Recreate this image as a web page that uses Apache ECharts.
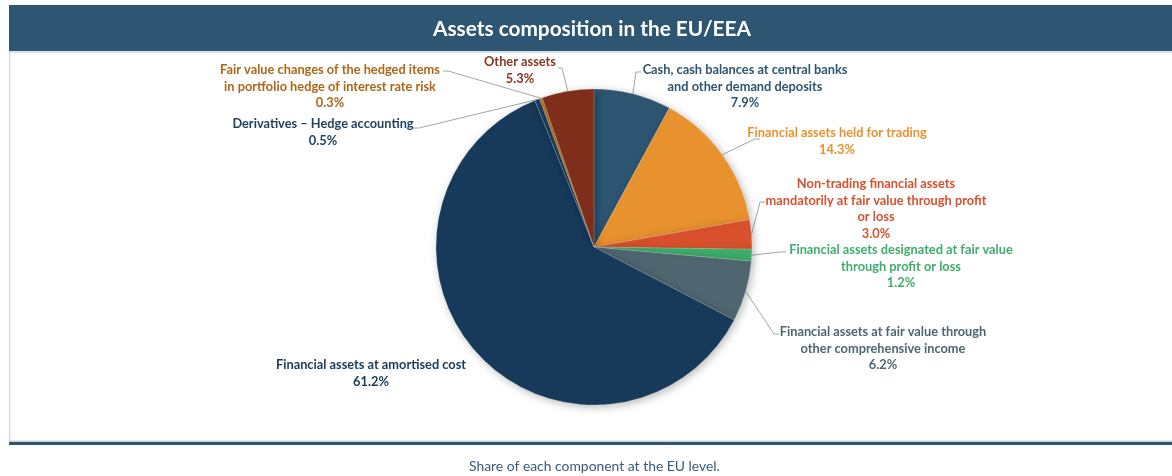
<!DOCTYPE html>
<html>
<head>
<meta charset="utf-8">
<title>Assets composition in the EU/EEA</title>
<script src="https://cdn.jsdelivr.net/npm/echarts@6/dist/echarts.min.js"></script>
<style>
  html, body { margin: 0; padding: 0; background: #ffffff; }
  #chart { width: 1172px; height: 476px; }
</style>
</head>
<body>
<div id="chart"></div>
<script>
// Asset components, in clockwise order starting at 12 o'clock
const categories = [
  'Cash, cash balances at central banks\nand other demand deposits',
  'Financial assets held for trading',
  'Non-trading financial assets\nmandatorily at fair value through profit\nor loss',
  'Financial assets designated at fair value\nthrough profit or loss',
  'Financial assets at fair value through\nother comprehensive income',
  'Financial assets at amortised cost',
  'Derivatives – Hedge accounting',
  'Fair value changes of the hedged items\nin portfolio hedge of interest rate risk',
  'Other assets'
];
// Share of total assets (%)
const shares = [7.9, 14.3, 3.0, 1.2, 6.2, 61.2, 0.5, 0.3, 5.3];

const sliceColors = ['#2E5572', '#E8912F', '#D9512C', '#3DAE6B', '#4F6670', '#173A5A', '#1E4060', '#B8721E', '#7E2E1A'];
const labelColors = ['#2E5572', '#E8912F', '#D9512C', '#3DAE6B', '#4F6670', '#173A5A', '#1E3F5E', '#B0661A', '#8B3520'];

// Label placement: centre x, top y of the text block, and the leader's bend/end points
const labelPlacement = [
  { x: 745, y: 62,  bend: [636, 72],  end: [641, 72] },
  { x: 837, y: 125, bend: [755, 139], end: [760, 139] },
  { x: 876, y: 176, bend: [760, 202], end: [765, 202] },
  { x: 901, y: 242, bend: [780, 252], end: [786, 252] },
  { x: 883, y: 324, bend: [774, 334], end: [779, 334] },
  { x: 371, y: 357, bend: null,       end: null },
  { x: 323, y: 116, bend: [419, 128], end: [413, 128] },
  { x: 330, y: 62,  bend: [448, 71],  end: [443, 71] },
  { x: 520, y: 54,  bend: [562, 68],  end: [558, 68] }
];

const chart = echarts.init(document.getElementById('chart'), null, { renderer: 'canvas' });

const fontFamily = 'Lato, "Open Sans", sans-serif';

const option = {
  animation: false,
  backgroundColor: '#ffffff',
  title: [
    {
      text: 'Assets composition in the EU/EEA',
      left: 428,
      top: 14,
      textStyle: { color: '#ffffff', fontSize: 20.8, fontWeight: 'bold', fontFamily: fontFamily }
    },
    {
      text: 'Share of each component at the EU level.',
      left: 464,
      top: 455,
      textStyle: { color: '#3A5A78', fontSize: 13.9, fontWeight: 'normal', fontFamily: fontFamily }
    }
  ],
  graphic: [
    { type: 'rect', z: -10, shape: { x: 9, y: 5, width: 1163, height: 46 }, style: { fill: '#2E5572' } },
    { type: 'rect', z: -10, shape: { x: 9, y: 51, width: 1163, height: 2 }, style: { fill: '#D3E0EC' } },
    { type: 'rect', z: -10, shape: { x: 9, y: 53, width: 1.5, height: 388 }, style: { fill: '#D9D9D9' } },
    { type: 'rect', z: -10, shape: { x: 9, y: 440.5, width: 1163, height: 1.5 }, style: { fill: '#D0D0D0' } },
    { type: 'rect', z: -10, shape: { x: 9, y: 442, width: 1163, height: 3 }, style: { fill: '#2E5572' } }
  ],
  series: [
    {
      type: 'pie',
      center: [594, 247],
      radius: [0, 158],
      startAngle: 90,
      clockwise: true,
      avoidLabelOverlap: false,
      data: categories.map((name, i) => ({
        name: name,
        value: shares[i],
        itemStyle: { color: sliceColors[i] },
        label: { color: labelColors[i] },
        labelLine: { show: labelPlacement[i].end !== null }
      })),
      itemStyle: {
        borderColor: 'rgba(255,255,255,0.35)',
        borderWidth: 0.5,
        shadowBlur: 8,
        shadowColor: 'rgba(0,0,0,0.28)',
        shadowOffsetX: 2,
        shadowOffsetY: 2
      },
      label: {
        show: true,
        position: 'outside',
        formatter: (p) => p.name + '\n' + p.value.toFixed(1) + '%',
        fontFamily: fontFamily,
        fontSize: 12.8,
        fontWeight: 'bold',
        lineHeight: 16.5,
        align: 'center'
      },
      labelLine: {
        show: true,
        length: 20,
        length2: 10,
        lineStyle: { color: '#A6A6A6', width: 1 }
      },
      labelLayout: function (params) {
        const pl = labelPlacement[params.dataIndex];
        const out = { x: pl.x, y: pl.y, align: 'center', verticalAlign: 'top' };
        if (pl.end && params.labelLinePoints) {
          out.labelLinePoints = [params.labelLinePoints[0], pl.bend, pl.end];
        }
        return out;
      }
    }
  ]
};

chart.setOption(option);
</script>
</body>
</html>
